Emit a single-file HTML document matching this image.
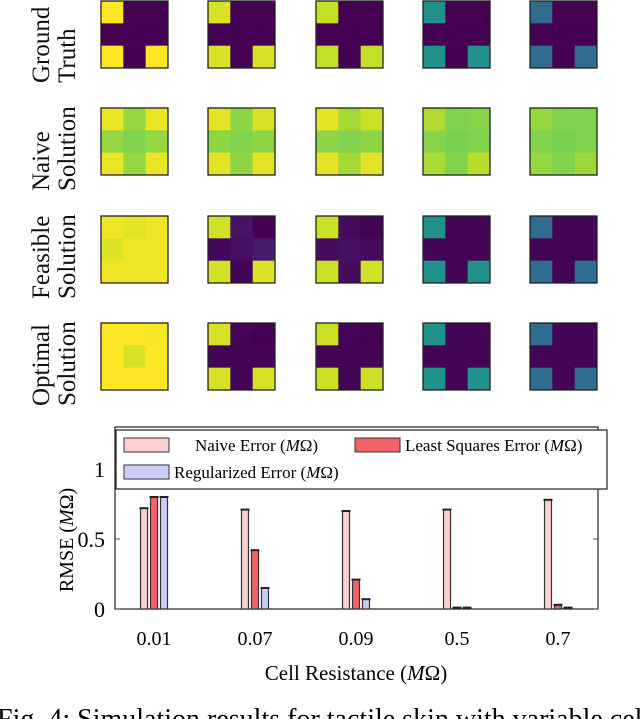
<!DOCTYPE html>
<html><head><meta charset="utf-8"><style>
html,body{margin:0;padding:0;background:#fff;width:640px;height:719px;overflow:hidden}
svg{display:block;font-family:"Liberation Serif",serif}
</style></head><body>
<svg id="fig" width="640" height="719" viewBox="0 0 640 719">
<g id="heatmaps"></g>
<g id="rowlabels" font-size="25" fill="#111">
<text transform="translate(49,83) rotate(-90)">Ground</text>
<text transform="translate(75,83) rotate(-90)">Truth</text>
<text transform="translate(49,191) rotate(-90)">Naive</text>
<text transform="translate(75,191) rotate(-90)">Solution</text>
<text transform="translate(49,299) rotate(-90)">Feasible</text>
<text transform="translate(75,299) rotate(-90)">Solution</text>
<text transform="translate(49,406) rotate(-90)">Optimal</text>
<text transform="translate(75,406) rotate(-90)">Solution</text>
</g>
<g id="chart"></g>
<text x="356" y="680" font-size="21" text-anchor="middle">Cell Resistance (<tspan font-style="italic">M</tspan>Ω)</text>
<text transform="translate(73,540) rotate(-90)" font-size="20" text-anchor="middle">RMSE (<tspan font-style="italic">M</tspan>Ω)</text>
<text x="-3" y="728" font-size="28">Fig. 4: Simulation results for tactile skin with variable cell</text>
</svg>
<script>
const heatRows=[
 [[[1,0,0],[0,0,0],[1,0,1]],[[0.94,0,0],[0,0,0],[0.94,0,0.94]],[[0.91,0,0],[0,0,0],[0.91,0,0.91]],[[0.5,0,0],[0,0,0],[0.5,0,0.5]],[[0.35,0,0],[0,0,0],[0.35,0,0.35]]],
 [[[0.97,0.84,0.97],[0.84,0.81,0.84],[0.97,0.84,0.97]],[[0.96,0.83,0.94],[0.83,0.81,0.83],[0.96,0.83,0.96]],[[0.96,0.86,0.92],[0.83,0.81,0.83],[0.96,0.86,0.96]],[[0.88,0.81,0.82],[0.82,0.8,0.81],[0.87,0.81,0.89]],[[0.84,0.81,0.81],[0.81,0.8,0.81],[0.84,0.81,0.85]]],
 [[[0.98,0.96,0.98],[0.95,0.98,0.98],[0.98,0.98,0.98]],[[0.93,0.05,0],[0.02,0.04,0.07],[0.93,0.01,0.95]],[[0.92,0.03,0.01],[0.03,0.04,0.03],[0.92,0.03,0.93]],[[0.5,0.01,0.01],[0.01,0.01,0.01],[0.5,0.01,0.5]],[[0.35,0.01,0.01],[0.01,0.01,0.01],[0.35,0.01,0.35]]],
 [[[1,1,0.99],[1,0.94,1],[1,1,1]],[[0.94,0.01,0],[0.01,0.01,0.01],[0.94,0.01,0.94]],[[0.92,0.01,0],[0.01,0.01,0.01],[0.92,0.01,0.92]],[[0.5,0.01,0.01],[0.01,0.01,0.01],[0.5,0.01,0.5]],[[0.35,0.01,0.01],[0.01,0.01,0.01],[0.35,0.01,0.35]]]
];
const viridis=["#440154","#482475","#414487","#355f8d","#2a788e","#21918c","#22a884","#44bf70","#7ad151","#bddf26","#fde725"];
function hx(c){return [1,3,5].map(i=>parseInt(c.substr(i,2),16));}
function cmap(v){v=Math.max(0,Math.min(1,v));const t=v*10,i=Math.min(9,Math.floor(t)),f=t-i;const a=hx(viridis[i]),b=hx(viridis[i+1]);return "rgb("+a.map((x,k)=>Math.round(x+(b[k]-x)*f)).join(",")+")";}
const NS="http://www.w3.org/2000/svg";
function mk(tag,attrs,parent){const e=document.createElementNS(NS,tag);for(const k in attrs)e.setAttribute(k,attrs[k]);parent.appendChild(e);return e;}
const colX=[101,208,316,423,530], rowY=[1,108,216,323], S=67;
const hm=document.getElementById('heatmaps');
heatRows.forEach((row,r)=>row.forEach((g,c)=>{
  const grp=mk('g',{},hm);
  
  
  for(let i=0;i<3;i++)for(let j=0;j<3;j++){
    const cell=mk('rect',{x:colX[c]+j*S/3,y:rowY[r]+i*S/3,width:S/3+0.4,height:S/3+0.4,fill:cmap(g[i][j])},grp);
    
    
  }
  const b=mk('rect',{x:colX[c],y:rowY[r],width:S,height:S,fill:'none',stroke:'#222','stroke-width':1.3},grp);
  
  
}));

// bar chart
const categories=["0.01","0.07","0.09","0.5","0.7"];
const naiveErr=[0.72,0.71,0.70,0.71,0.78];
const lsErr=[0.80,0.42,0.21,0.01,0.03];
const regErr=[0.80,0.15,0.07,0.01,0.01];
const yTicks=[0,0.5,1];
const yTickLabels=["0","0.5","1"];
const L=115,R=598,T=427,B=609,YMAX=1.3;
const y=v=>B-(v/YMAX)*(B-T);
const xc=i=>154+i*101;
const ch=document.getElementById('chart');
const frame=mk('rect',{x:L,y:T,width:R-L,height:B-T,fill:'none',stroke:'#222','stroke-width':1.2},ch);


yTicks.forEach((v,i)=>{
  const t1=mk('line',{x1:L,x2:L+5,y1:y(v),y2:y(v),stroke:'#444'},ch);
  
  
  const t2=mk('line',{x1:R-5,x2:R,y1:y(v),y2:y(v),stroke:'#444'},ch);
  
  
  const tl=mk('text',{x:L-10,y:y(v)+8,'font-size':22,'text-anchor':'end'},ch);
  tl.textContent=yTickLabels[i];
  
  
});
categories.forEach((c,i)=>{
  const tl=mk('text',{x:xc(i),y:645,'font-size':20,'text-anchor':'middle'},ch);
  tl.textContent=c;
  
  
});
const series=[[naiveErr,"#fbd0d0",-10,'naive'],[lsErr,"#f36269",0,'least-squares'],[regErr,"#ccccf8",10,'regularized']];
series.forEach(([vals,col,off,nm])=>vals.forEach((v,i)=>{
  const cx=xc(i)+off;
  const bar=mk('rect',{x:cx-3.5,y:y(v),width:7,height:B-y(v),fill:col,stroke:'#333','stroke-width':1.2},ch);
  
  
  const cap=mk('line',{x1:cx-4.5,x2:cx+4.5,y1:y(v),y2:y(v),stroke:'#222','stroke-width':2},ch);
  
  
}));
// legend
const lg=mk('g',{},ch);


mk('rect',{x:116,y:430,width:491,height:59,fill:'#fff',stroke:'#222','stroke-width':1.2},lg);
const entries=[["#fbd0d0",124,438,"Naive Error (",195],["#f36269",355,438,"Least Squares Error (",405],["#ccccf8",124,465,"Regularized Error (",174]];
entries.forEach(([col,x0,y0,txt,tx])=>{
  const e=mk('g',{},lg);
  
  
  mk('rect',{x:x0,y:y0,width:45,height:14,fill:col,stroke:'#333','stroke-width':1},e);
  const t=mk('text',{x:tx,y:y0+13,'font-size':17},e);
  t.innerHTML=txt+'<tspan font-style="italic">M</tspan>Ω)';
});
</script>
</body></html>
